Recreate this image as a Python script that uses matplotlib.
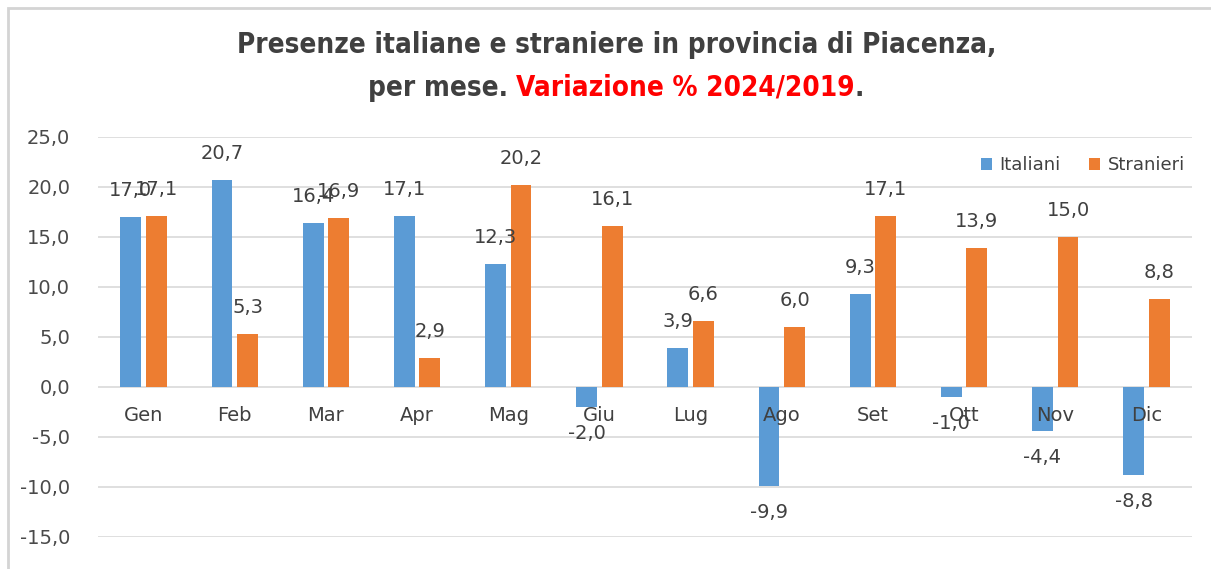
import matplotlib.pyplot as plt
from matplotlib.patches import Rectangle
import numpy as np

mesi = ["Gen", "Feb", "Mar", "Apr", "Mag", "Giu", "Lug", "Ago", "Set", "Ott", "Nov", "Dic"]
italiani = [17.0, 20.7, 16.4, 17.1, 12.3, -2.0, 3.9, -9.9, 9.3, -1.0, -4.4, -8.8]
stranieri = [17.1, 5.3, 16.9, 2.9, 20.2, 16.1, 6.6, 6.0, 17.1, 13.9, 15.0, 8.8]
yticks = [-15, -10, -5, 0, 5, 10, 15, 20, 25]

BLUE = "#5b9bd5"
ORANGE = "#ed7d31"
GRID = "#d9d9d9"
TXT = "#404040"


def fmt(v):
    return "{:.1f}".format(v).replace(".", ",")


fig = plt.figure(figsize=(12.11, 5.69), dpi=100)

# chart border (light gray frame)
fig.patches.append(Rectangle((8 / 1211, -0.1), 1.2, 1 - 8 / 569 + 0.1,
                             transform=fig.transFigure, fill=False,
                             edgecolor="#d4d4d4", linewidth=2))

ax = fig.add_axes([98 / 1211, 1 - 537 / 569, (1192 - 98) / 1211, 400 / 569])

x = np.arange(len(mesi))
w = 0.23
off = 0.14
ax.bar(x - off, italiani, w, color=BLUE, label="Italiani", zorder=3)
ax.bar(x + off, stranieri, w, color=ORANGE, label="Stranieri", zorder=3)

ax.set_xlim(-0.5, len(mesi) - 0.5)
ax.set_ylim(-15, 25)
ax.set_yticks(yticks)
ax.set_yticklabels([fmt(v) for v in yticks])
ax.tick_params(axis="y", length=0, pad=20, labelsize=14, labelcolor="#4a4a4a")
ax.set_xticks([])
for s in ax.spines.values():
    s.set_visible(False)
for v in yticks:
    ax.axhline(v, color=GRID, linewidth=1.2, zorder=1)

# month names next to the zero line
for i, m in enumerate(mesi):
    ax.text(i, -2.9, m, ha="center", va="center", fontsize=14, color=TXT, zorder=4)

# data labels
for xs, vals in ((x - off, italiani), (x + off, stranieri)):
    for xi, v in zip(xs, vals):
        dy = 2.6 if v >= 0 else -2.7
        ax.text(xi, v + dy, fmt(v), ha="center", va="center", fontsize=14,
                color=TXT, zorder=4)

leg = ax.legend(loc="upper right", bbox_to_anchor=(1.0, 0.97), ncol=2, frameon=False,
                fontsize=13, handlelength=0.6, handleheight=0.6, handletextpad=0.4,
                columnspacing=1.6, borderaxespad=0)
for t in leg.get_texts():
    t.set_color(TXT)

# title
fig.text(0.509, 1 - 45 / 569, "Presenze italiane e straniere in provincia di Piacenza,",
         ha="center", va="center", fontsize=20, fontweight="bold", color=TXT,
         fontstretch="condensed")

parts = [("per mese. ", TXT), ("Variazione % 2024/2019", "#ff0000"), (".", TXT)]
r = fig.canvas.get_renderer()
texts = []
total = 0
for s, c in parts:
    t = fig.text(0, 1 - 88 / 569, s, ha="left", va="center", fontsize=20,
                 fontweight="bold", color=c, fontstretch="condensed")
    texts.append(t)
    total += t.get_window_extent(renderer=r).width
xpos = 616 - total / 2
for t in texts:
    t.set_x(xpos / 1211)
    xpos += t.get_window_extent(renderer=r).width

fig.savefig("out.png", dpi=100)
